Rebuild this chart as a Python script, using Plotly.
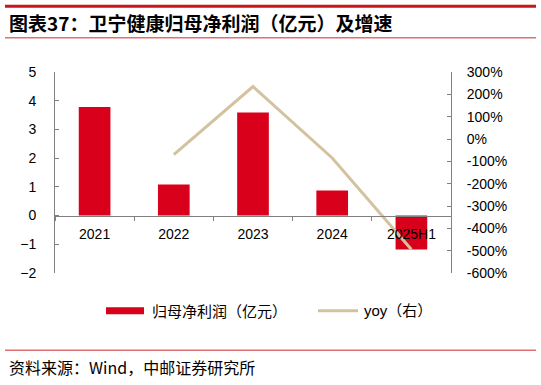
import plotly.graph_objects as go

categories = ["2021", "2022", "2023", "2024", "2025H1"]
net_profit = [3.78, 1.08, 3.59, 0.87, -1.18]
yoy_pct = [None, -70, 235, -85, -495]
left_ticks = [5, 4, 3, 2, 1, 0, -1, -2]
right_ticks = [300, 200, 100, 0, -100, -200, -300, -400, -500, -600]

W, H = 541, 385
L, R, T, B = 55, 451, 71.7, 272.7

def px(x):
    return (x - L) / (R - L)

def py(y):
    return (B - y) / (B - T)

BAR = "#D9001B"
LINE = "#D4C29E"
AX = "#808080"
TICKFONT = dict(family="Liberation Sans, Arial", size=14, color="#000000")
CJK = "Noto Sans CJK SC"

fig = go.Figure()
fig.add_trace(go.Bar(x=categories, y=net_profit, marker=dict(color=BAR, line=dict(width=0)),
                     width=0.4, name="归母净利润（亿元）", showlegend=False))
fig.add_trace(go.Scatter(x=categories, y=yoy_pct, yaxis="y2", mode="lines",
                         line=dict(color=LINE, width=3), name="yoy（右）", showlegend=False))

shapes = [
    dict(type="line", xref="paper", yref="paper", x0=px(5), x1=px(536), y0=py(6), y1=py(6),
         line=dict(color="#C8161D", width=3)),
    dict(type="line", xref="paper", yref="paper", x0=px(5), x1=px(536), y0=py(37.5), y1=py(37.5),
         line=dict(color="#E07070", width=1.5)),
    dict(type="line", xref="paper", yref="paper", x0=px(5), x1=px(536), y0=py(350), y1=py(350),
         line=dict(color="#E07070", width=1.5)),
    dict(type="rect", xref="paper", yref="paper", x0=px(106), x1=px(144), y0=py(314), y1=py(307),
         fillcolor=BAR, line=dict(width=0)),
    dict(type="line", xref="paper", yref="paper", x0=px(318), x1=px(358), y0=py(310.5), y1=py(310.5),
         line=dict(color=LINE, width=3)),
]

annotations = [
    dict(text="<b>图表37：卫宁健康归母净利润（亿元）及增速</b>", xref="paper", yref="paper",
         x=px(7), y=py(22), xanchor="left", yanchor="middle", showarrow=False,
         font=dict(family=CJK, size=19, color="#000000")),
    dict(text="资料来源：Wind，中邮证券研究所", xref="paper", yref="paper",
         x=px(7), y=py(367), xanchor="left", yanchor="middle", showarrow=False,
         font=dict(family=CJK, size=16, color="#000000")),
    dict(text="归母净利润（亿元）", xref="paper", yref="paper",
         x=px(150), y=py(310.5), xanchor="left", yanchor="middle", showarrow=False,
         font=dict(family=CJK, size=15, color="#000000")),
    dict(text="yoy（右）", xref="paper", yref="paper",
         x=px(362), y=py(310.5), xanchor="left", yanchor="middle", showarrow=False,
         font=dict(family="Liberation Sans, " + CJK, size=15, color="#000000")),
]

fig.update_layout(
    width=W, height=H,
    margin=dict(l=L, r=W - R, t=T, b=H - B, pad=0),
    paper_bgcolor="white", plot_bgcolor="white",
    showlegend=False,
    shapes=shapes, annotations=annotations,
    xaxis=dict(type="category", anchor="free", position=2 / 7, showline=True, linecolor=AX,
               linewidth=1, ticks="outside", ticklen=4, tickcolor=AX, tickson="boundaries",
               tickfont=TICKFONT, ticklabelstandoff=6, showgrid=False, zeroline=False,
               domain=[0, 1]),
    yaxis=dict(range=[-2, 5], tickvals=left_ticks, showline=True, linecolor=AX, linewidth=1,
               ticks="inside", ticklen=4, tickcolor=AX, tickfont=TICKFONT, showgrid=False,
               zeroline=False, ticklabelstandoff=15, domain=[0, 1]),
    yaxis2=dict(range=[-600, 300], tickvals=right_ticks, ticktext=[f"{v}%" for v in right_ticks],
                overlaying="y", side="right", showline=True, linecolor=AX, linewidth=1,
                ticks="inside", ticklen=4, tickcolor=AX, tickfont=TICKFONT, showgrid=False,
                zeroline=False, ticklabelstandoff=12),
)

fig.write_html("out.html")
